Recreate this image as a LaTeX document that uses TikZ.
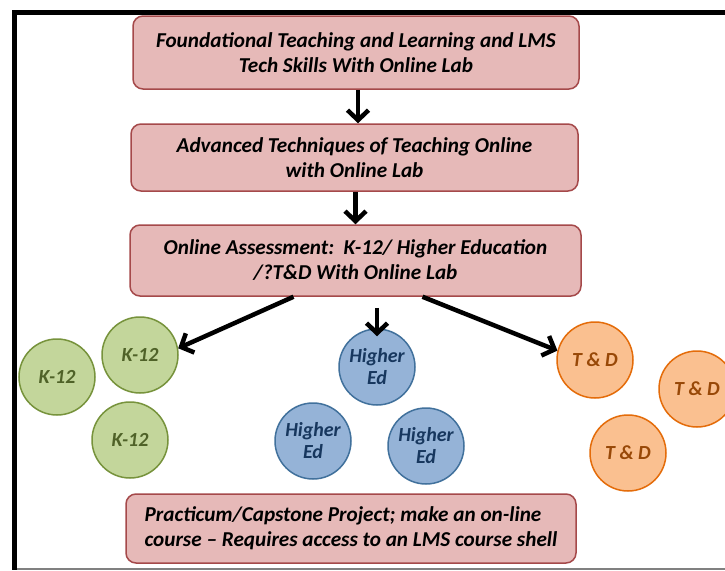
\documentclass[tikz,border=0pt]{standalone}
\usepackage{fontspec}
\setmainfont{Carlito}
\usetikzlibrary{arrows.meta}

\definecolor{stagefill}{HTML}{E6B9B8}
\definecolor{stageline}{HTML}{A5494A}
\definecolor{kfill}{HTML}{C3D69B}
\definecolor{kline}{HTML}{77933C}
\definecolor{ktext}{HTML}{4F6228}
\definecolor{hefill}{HTML}{95B3D7}
\definecolor{heline}{HTML}{41719C}
\definecolor{hetext}{HTML}{17375E}
\definecolor{tdfill}{HTML}{FAC090}
\definecolor{tdline}{HTML}{E46C0A}
\definecolor{tdtext}{HTML}{984807}

\begin{document}
\begin{tikzpicture}[x=1pt,y=-1pt,>={Straight Barb[length=10pt,width=21pt]},
  stage/.style={draw=stageline,fill=stagefill,line width=1.5pt,rounded corners=10pt,
    inner sep=0pt,align=center,font=\fontsize{21.2}{25}\selectfont\bfseries\itshape},
  track/.style={circle,line width=1.5pt,minimum size=76pt,inner sep=0pt,align=center,
    font=\fontsize{20}{22}\selectfont\bfseries\itshape},
  k12/.style={track,draw=kline,fill=kfill,text=ktext},
  hied/.style={track,draw=heline,fill=hefill,text=hetext},
  tnd/.style={track,draw=tdline,fill=tdfill,text=tdtext}]

\clip (0,0) rectangle (725,570);
\fill[white] (0,0) rectangle (725,570);

\draw[line width=5pt] (12,12.5)--(725,12.5);
\draw[line width=5pt] (14.5,10)--(14.5,570);
\draw[line width=2pt,color=gray] (17,568.5)--(725,568.5);

\node[stage,minimum width=446pt,minimum height=73pt] (found) at (356,52.5)
	{Foundational Teaching and Learning and LMS\\Tech Skills With Online Lab};
\node[stage,minimum width=447pt,minimum height=67pt] (advtech) at (354.5,157.5)
	{Advanced Techniques of Teaching Online\\with Online Lab};
\node[stage,minimum width=451pt,minimum height=71pt] (assess) at (355.5,260.5)
	{Online Assessment:\ \ K-12/ Higher Education\\/?T\&D With Online Lab};
\node[stage,minimum width=450pt,minimum height=69pt,align=left] (capstone) at (351,528.5)
	{Practicum/Capstone Project; make an on-line\\course -- Requires access to an LMS course shell};

\node[k12] (kA) at (140,355) {K-12};
\node[k12] (kB) at (57,377) {K-12};
\node[k12] (kC) at (130,440) {K-12};

\node[hied] (heA) at (377,367) {Higher\\Ed};
\node[hied] (heB) at (313,441) {Higher\\Ed};
\node[hied] (heC) at (426,446) {Higher\\Ed};

\node[tnd] (tdA) at (595,360) {T \& D};
\node[tnd] (tdB) at (697,389) {T \& D};
\node[tnd] (tdC) at (628,453) {T \& D};

\draw[->,line width=4.5pt] ([xshift=2pt]found.south) -- ([xshift=2pt]found.south |- advtech.north);
\draw[->,line width=4.5pt] ([xshift=1pt]advtech.south) -- ([xshift=1pt]advtech.south |- assess.north);

\draw[->,line width=4.5pt] ([xshift=-62pt]assess.south) -- (kA.10);
\draw[->,line width=4.5pt] ([yshift=-11pt]assess.south -| heA.north) -- ([yshift=-8pt]heA.north);
\draw[->,line width=4.5pt] ([xshift=67pt]assess.south) -- (tdA.166);

\end{tikzpicture}
\end{document}
